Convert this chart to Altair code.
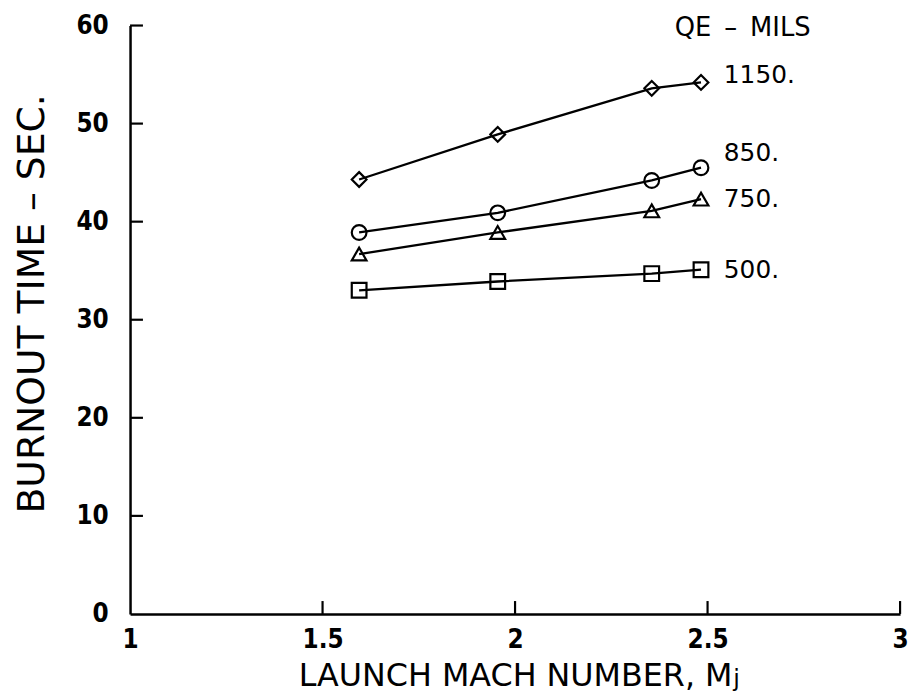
import altair as alt
import pandas as pd

# ---- data ----
mach = [1.595, 1.955, 2.355, 2.483]
qe_labels = ["1150.", "850.", "750.", "500."]
t_1150 = [44.3, 48.9, 53.6, 54.2]
t_850 = [38.9, 40.9, 44.2, 45.5]
t_750 = [36.7, 38.9, 41.1, 42.3]
t_500 = [33.0, 33.9, 34.7, 35.1]
shapes = ["diamond", "circle", "triangle-up", "square"]
x_ticks = [1, 1.5, 2, 2.5, 3]
y_ticks = [0, 10, 20, 30, 40, 50, 60]
legend_title = ["QE\u2002–\u2002MILS"]
x_title = "LAUNCH MACH NUMBER, M"
x_title_sub = ["j"]
y_title = "BURNOUT TIME – SEC."

rows = []
for lab, vals in zip(qe_labels, [t_1150, t_850, t_750, t_500]):
    for m, v in zip(mach, vals):
        rows.append({"qe": lab, "mach": m, "t": v})
df = pd.DataFrame(rows)
last = df.groupby("qe", sort=False).tail(1).reset_index(drop=True)

W, H = 776, 593
FONT = "DejaVu Sans"
FONT_C = "DejaVu Sans Condensed"

xs = alt.Scale(domain=[1, 3], nice=False, zero=False)
ys = alt.Scale(domain=[0, 60], nice=False)

xaxis = alt.Axis(values=x_ticks, format="~g", ticks=False, grid=False,
                 domainColor="black", domainWidth=2.5,
                 labelFont=FONT_C, labelFontSize=26, labelFontWeight="bold",
                 labelColor="black", labelPadding=13, labelFlush=False,
                 title=x_title, titleFont=FONT, titleFontSize=32,
                 titleFontWeight="normal", titleColor="black",
                 titleBaseline="alphabetic", titleY=72)
yaxis = alt.Axis(values=y_ticks, format="d", ticks=False, grid=False,
                 domainColor="black", domainWidth=2.5,
                 labelFont=FONT_C, labelFontSize=26, labelFontWeight="bold",
                 labelColor="black", labelPadding=22, labelFlush=False,
                 title=y_title, titleFont=FONT, titleFontSize=38,
                 titleFontWeight="normal", titleColor="black",
                 titleBaseline="alphabetic", titleX=-87, titleY=280)

base = alt.Chart(df)
lines = base.mark_line(color="black", strokeWidth=2.3).encode(
    x=alt.X("mach:Q", scale=xs, axis=xaxis),
    y=alt.Y("t:Q", scale=ys, axis=yaxis),
    detail="qe:N",
)
points = base.mark_point(filled=False, color="black", strokeWidth=2.2,
                         size=220, opacity=1).encode(
    x=alt.X("mach:Q", scale=xs, axis=xaxis),
    y=alt.Y("t:Q", scale=ys, axis=yaxis),
    shape=alt.Shape("qe:N", scale=alt.Scale(domain=qe_labels, range=shapes),
                    legend=None),
)

label_dy = {"1150.": -7, "850.": -15, "750.": 0, "500.": 0}
label_layers = []
for lab in qe_labels:
    sub = last[last["qe"] == lab]
    label_layers.append(
        alt.Chart(sub).mark_text(align="left", baseline="middle", dx=23,
                                 dy=label_dy[lab], font=FONT, fontSize=25,
                                 color="black").encode(
            x=alt.X("mach:Q", scale=xs, axis=xaxis),
            y=alt.Y("t:Q", scale=ys, axis=yaxis),
            text="qe:N",
        )
    )

ytick_df = pd.DataFrame({"v": y_ticks[1:]})
xtick_df = pd.DataFrame({"v": x_ticks[1:]})
yticks = alt.Chart(ytick_df).mark_rule(color="black", strokeWidth=2.2).encode(
    y=alt.Y("v:Q", scale=ys, axis=yaxis), x=alt.value(0), x2=alt.value(13))
xticks = alt.Chart(xtick_df).mark_rule(color="black", strokeWidth=2.2).encode(
    x=alt.X("v:Q", scale=xs, axis=xaxis), y=alt.value(H), y2=alt.value(H - 13))

head = alt.Chart(pd.DataFrame({"t": legend_title})).mark_text(
    align="left", baseline="middle", font=FONT, fontSize=26,
    color="black").encode(
    x=alt.value(549), y=alt.value(3), text="t:N")

sub_j = alt.Chart(pd.DataFrame({"t": x_title_sub})).mark_text(
    align="left", baseline="alphabetic", font=FONT, fontSize=24,
    color="black").encode(
    x=alt.value(608), y=alt.value(H + 73), text="t:N")

chart = alt.layer(lines, points, *label_layers, yticks, xticks, head, sub_j).properties(
    width=W, height=H,
    autosize=alt.AutoSizeParams(type="none"),
    padding={"left": 123, "top": 15, "right": 8, "bottom": 76},
    background="white",
).configure_view(strokeWidth=0)

chart.save("out.html", embed_options={"renderer": "svg", "actions": False})
